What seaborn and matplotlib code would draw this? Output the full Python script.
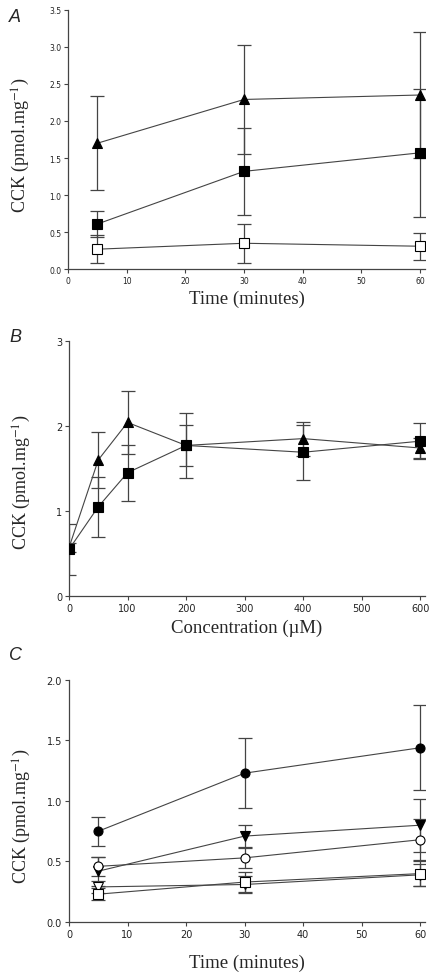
import numpy as np
import pandas as pd
import matplotlib
matplotlib.use("Agg")
import matplotlib.pyplot as plt
import seaborn as sns

# --- Pannello A: CCK nel tempo ---
a_time = [5, 30, 60]
a_tri = [1.70, 2.29, 2.35]
a_tri_err = [0.63, 0.74, 0.85]
a_sq = [0.61, 1.32, 1.57]
a_sq_err = [0.18, 0.59, 0.86]
a_open = [0.27, 0.35, 0.31]
a_open_err = [0.19, 0.26, 0.18]

# --- Pannello B: dose-risposta ---
b_conc = [0, 50, 100, 200, 400, 600]
b_tri = [0.57, 1.60, 2.04, 1.77, 1.85, 1.74]
b_tri_err = [0.05, 0.33, 0.37, 0.38, 0.20, 0.12]
b_sq = [0.55, 1.05, 1.45, 1.77, 1.69, 1.82]
b_sq_err = [0.30, 0.35, 0.33, 0.24, 0.32, 0.21]

# --- Pannello C: cinque condizioni nel tempo ---
c_time = [5, 30, 60]
c_fcirc = [0.75, 1.23, 1.44]
c_fcirc_err = [0.12, 0.29, 0.35]
c_ftri = [0.42, 0.71, 0.80]
c_ftri_err = [0.12, 0.09, 0.22]
c_ocirc = [0.46, 0.53, 0.68]
c_ocirc_err = [0.08, 0.08, 0.17]
c_otri = [0.29, 0.31, 0.39]
c_otri_err = [0.05, 0.07, 0.09]
c_osq = [0.23, 0.33, 0.40]
c_osq_err = [0.05, 0.08, 0.10]

sns.set_style("ticks")
plt.rcParams["font.family"] = ["DejaVu Sans"]
plt.rcParams["mathtext.fontset"] = "stix"

LINE = "#444444"
SERIF = "Liberation Serif"


def draw_series(ax, x, y, err, marker, filled, ms=7):
    """Linea + marker con seaborn, barre d'errore con errorbar."""
    df = pd.DataFrame({"x": x, "y": y})
    face = "black" if filled else "white"
    ax.errorbar(x, y, yerr=err, fmt="none", ecolor=LINE, elinewidth=0.9,
                capsize=5, capthick=0.9, zorder=2)
    sns.lineplot(data=df, x="x", y="y", ax=ax, color=LINE, lw=0.8,
                 marker=marker, markersize=ms, markerfacecolor=face,
                 markeredgecolor="black", markeredgewidth=0.8, zorder=3)


def style_axes(ax, xticks, yticks, xlim, ylim, yfmt, xlabel, tick_fs,
               xlab_y, ylab_y):
    ax.set_xlim(*xlim)
    ax.set_ylim(*ylim)
    ax.set_xticks(xticks)
    ax.set_yticks(yticks)
    ax.set_yticklabels([yfmt.format(v) for v in yticks])
    ax.tick_params(labelsize=tick_fs, length=3, width=0.8, color=LINE,
                   pad=2, labelcolor="#222222")
    for s in ["left", "bottom"]:
        ax.spines[s].set_color(LINE)
        ax.spines[s].set_linewidth(0.9)
    sns.despine(ax=ax)
    ax.set_xlabel(xlabel, family=SERIF, fontsize=13.5)
    ax.set_ylabel("CCK (pmol.mg$^{-1}$)", family=SERIF, fontsize=13)
    ax.xaxis.set_label_coords(0.5, xlab_y)
    ax.yaxis.set_label_coords(-0.10, ylab_y)


fig = plt.figure(figsize=(4.34, 9.79), dpi=100)

axA = fig.add_axes([0.157, 0.724, 0.822, 0.265])
draw_series(axA, a_time, a_tri, a_tri_err, "^", True)
draw_series(axA, a_time, a_sq, a_sq_err, "s", True)
draw_series(axA, a_time, a_open, a_open_err, "s", False)
style_axes(axA, range(0, 61, 10), np.arange(0, 3.51, 0.5), (0, 60.85),
           (0, 3.5), "{:.1f}", "Time (minutes)", 5.5, -0.078, 0.48)

axB = fig.add_axes([0.159, 0.390, 0.820, 0.261])
draw_series(axB, b_conc, b_tri, b_tri_err, "^", True)
draw_series(axB, b_conc, b_sq, b_sq_err, "s", True)
style_axes(axB, range(0, 601, 100), [0, 1, 2, 3], (0, 608), (0, 3),
           "{:.0f}", "Concentration (\u00b5M)", 7, -0.09, 0.45)

axC = fig.add_axes([0.159, 0.0572, 0.820, 0.2472])
draw_series(axC, c_time, c_fcirc, c_fcirc_err, "o", True, 6.5)
draw_series(axC, c_time, c_ftri, c_ftri_err, "v", True, 6.5)
draw_series(axC, c_time, c_ocirc, c_ocirc_err, "o", False, 6.5)
draw_series(axC, c_time, c_otri, c_otri_err, "v", False, 6.5)
draw_series(axC, c_time, c_osq, c_osq_err, "s", False, 6.5)
style_axes(axC, range(0, 61, 10), np.arange(0, 2.01, 0.5), (0, 60.8),
           (0, 2.0), "{:.1f}", "Time (minutes)", 7, -0.13, 0.44)

for label, ypx in [("A", 18), ("B", 337), ("C", 655)]:
    fig.text(15 / 434, 1 - ypx / 979, label, fontsize=13, style="italic",
             ha="center", va="center", family="Liberation Sans")

fig.savefig("out.png", dpi=100)
plt.close(fig)
